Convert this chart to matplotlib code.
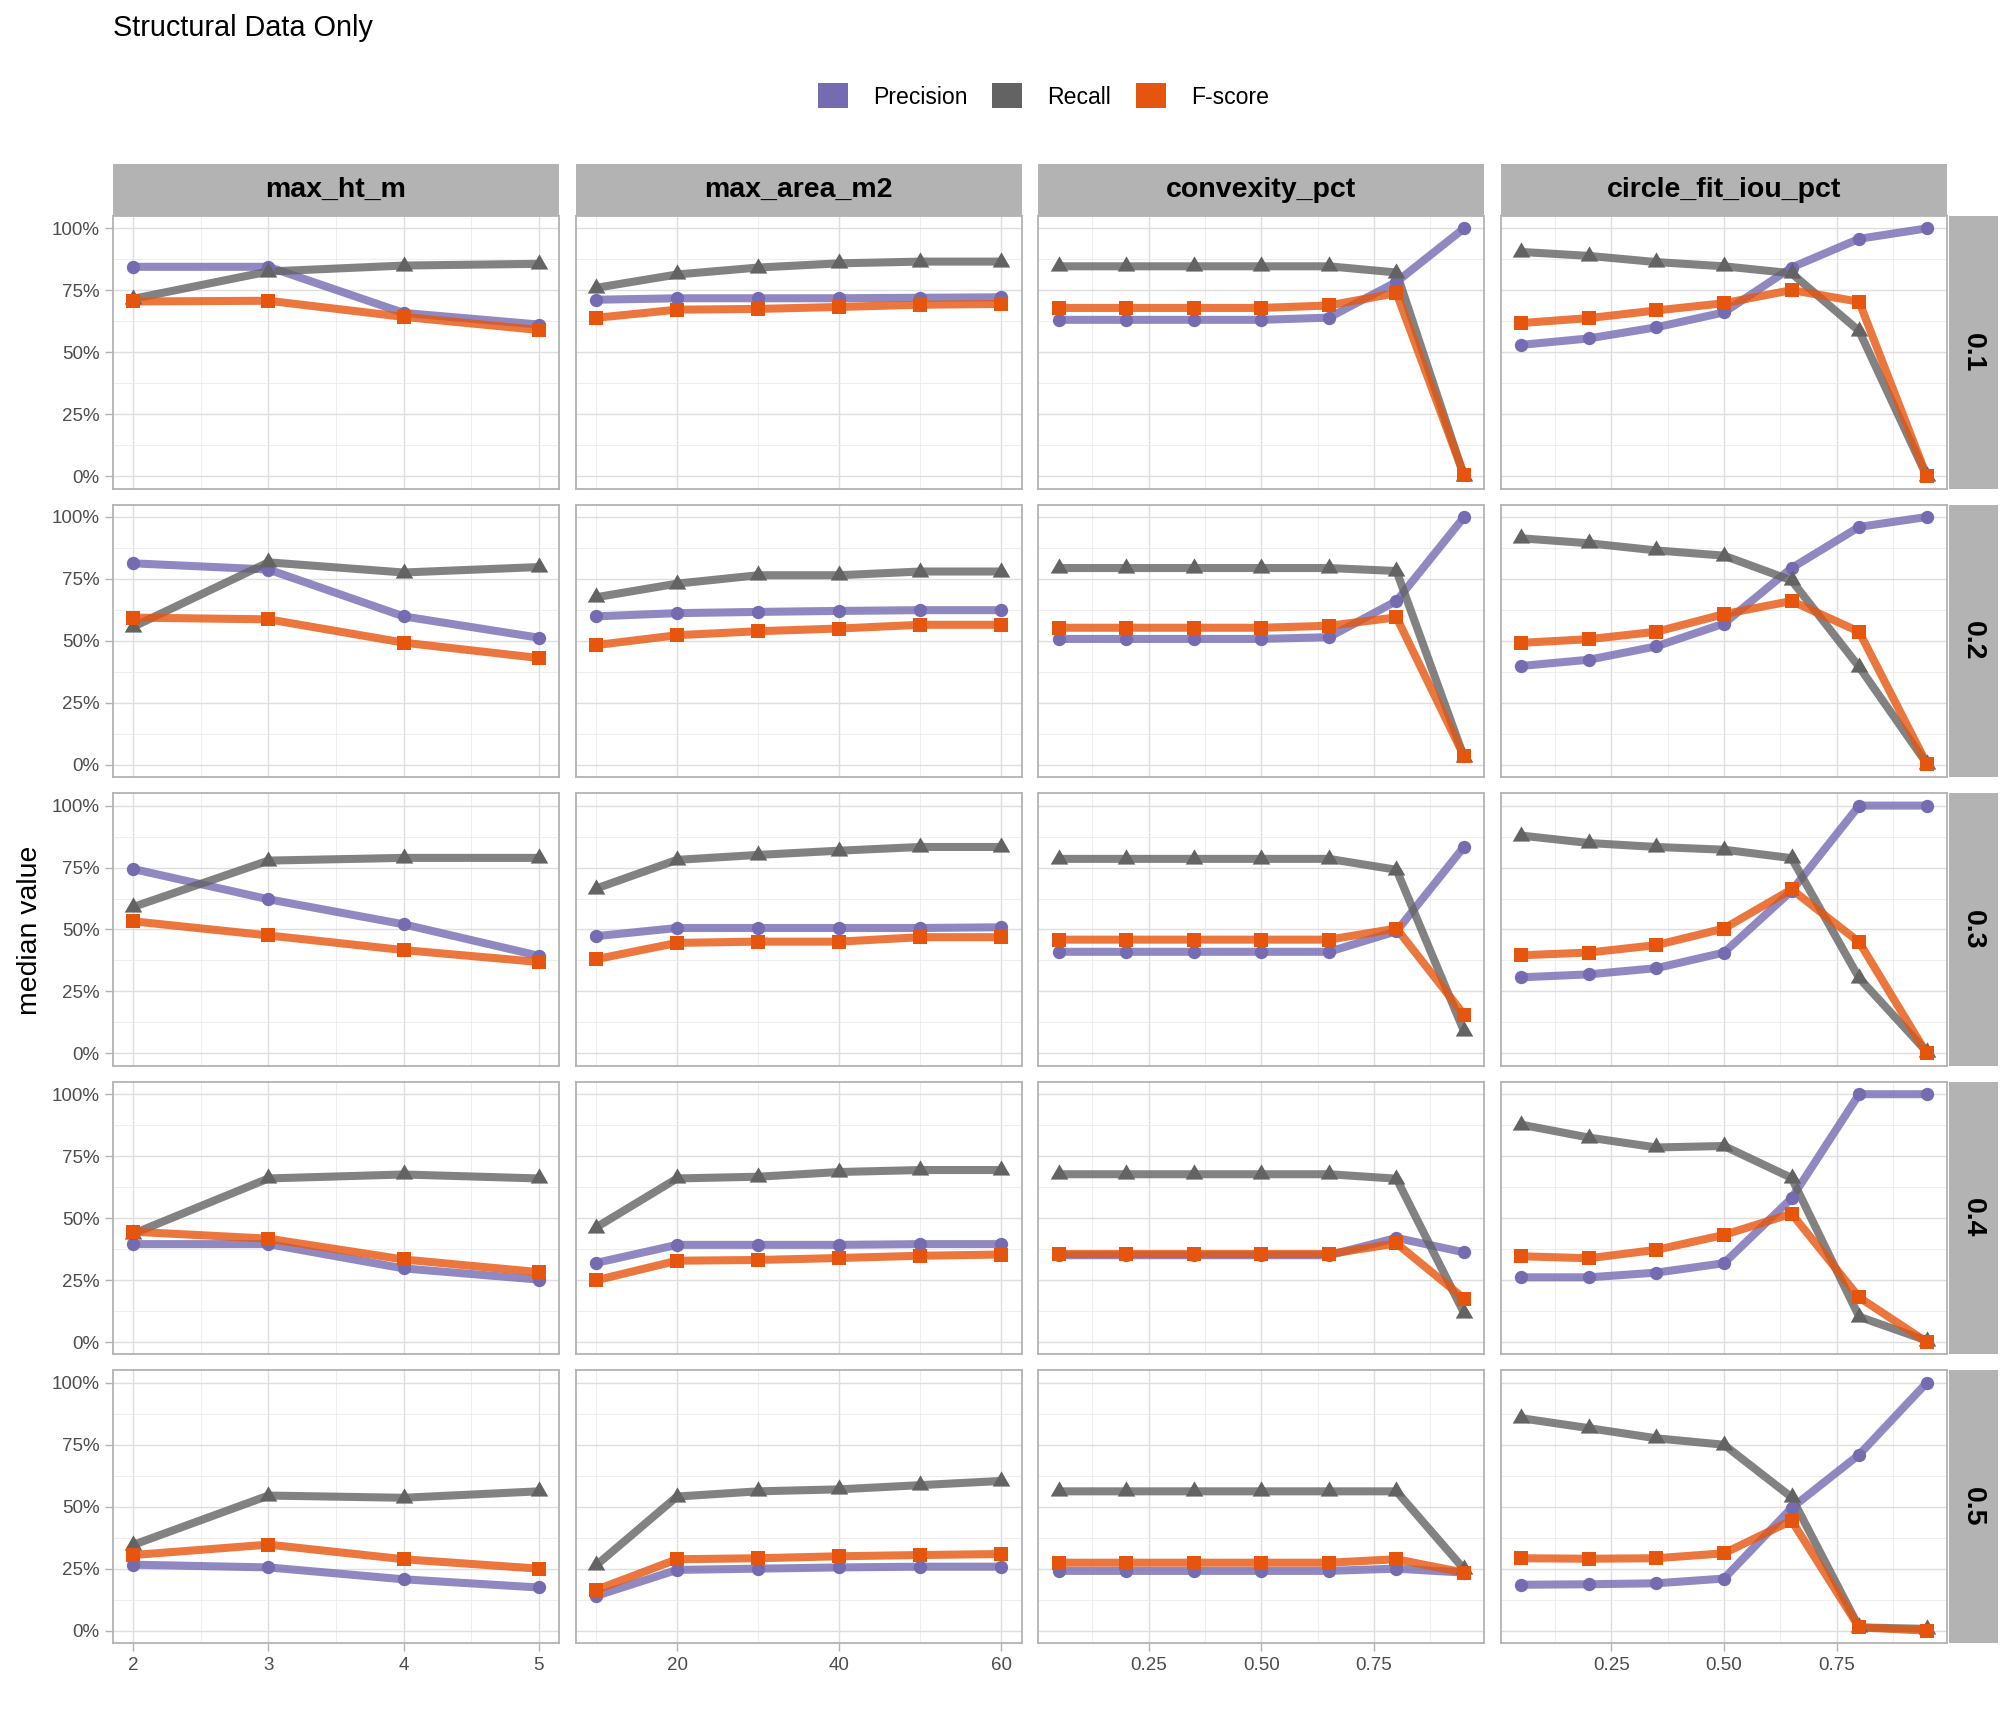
"""Faceted precision / recall / F-score curves for structural filters.

Rows are the IoU threshold, columns are the filter variable, each
panel shows the median value of the three metrics.

Usage:
    python plot.py
"""

import matplotlib
matplotlib.use("Agg")
import matplotlib.pyplot as plt
from matplotlib.patches import Patch, Rectangle
from matplotlib.ticker import PercentFormatter, FormatStrFormatter

plt.rcParams['font.family'] = ['Liberation Sans', 'DejaVu Sans']

# ---------------------------------------------------------------- data
thresholds = ["0.1", "0.2", "0.3", "0.4", "0.5"]
features = ["max_ht_m", "max_area_m2", "convexity_pct", "circle_fit_iou_pct"]
metrics = ["Precision", "Recall", "F-score"]

x_ht = [2, 3, 4, 5]
x_area = [10, 20, 30, 40, 50, 60]
x_conv = [0.05, 0.20, 0.35, 0.50, 0.65, 0.80, 0.95]
x_circ = [0.05, 0.20, 0.35, 0.50, 0.65, 0.80, 0.95]

# values in percent, one list per threshold row
prec_ht = [[84.5, 84.5, 65.9, 61.2],
           [81.3, 78.8, 59.9, 51.3],
           [74.4, 62.2, 52.1, 39.4],
           [39.5, 39.5, 29.7, 25.2],
           [26.6, 25.5, 20.7, 17.4]]
rec_ht = [[71.6, 82.6, 85.0, 85.7],
          [55.7, 81.7, 77.6, 79.8],
          [59.1, 77.8, 78.9, 78.9],
          [43.7, 66.0, 67.6, 66.0],
          [34.6, 54.5, 53.6, 56.2]]
f_ht = [[70.5, 70.8, 64.3, 59.0],
        [59.4, 58.7, 49.3, 43.1],
        [53.3, 47.6, 41.7, 36.9],
        [44.5, 41.7, 33.3, 28.2],
        [30.5, 34.7, 28.8, 25.0]]

prec_area = [[71.2, 71.8, 71.8, 71.8, 72.0, 72.2],
             [59.9, 61.2, 61.7, 62.1, 62.4, 62.4],
             [47.3, 50.6, 50.6, 50.6, 50.6, 50.9],
             [31.9, 39.2, 39.2, 39.2, 39.5, 39.5],
             [14.0, 24.5, 25.0, 25.5, 25.8, 25.8]]
rec_area = [[76.0, 81.4, 84.2, 85.9, 86.6, 86.6],
            [67.6, 73.1, 76.5, 76.5, 78.0, 78.0],
            [66.5, 78.1, 80.1, 81.8, 83.3, 83.3],
            [46.2, 66.0, 66.7, 68.6, 69.4, 69.4],
            [26.3, 54.1, 56.2, 57.0, 58.7, 60.4]]
f_area = [[63.9, 67.2, 67.5, 68.3, 69.2, 69.5],
          [48.3, 52.3, 53.9, 55.0, 56.5, 56.5],
          [38.0, 44.6, 45.1, 45.1, 46.9, 46.9],
          [24.9, 32.8, 33.1, 33.9, 34.8, 35.3],
          [16.4, 28.8, 29.2, 30.0, 30.5, 30.9]]

prec_conv = [[63.1, 63.1, 63.1, 63.1, 64.0, 78.4, 100.0],
             [50.8, 50.8, 50.8, 50.8, 51.5, 66.1, 100.0],
             [41.0, 41.0, 41.0, 41.0, 41.0, 49.3, 83.4],
             [35.0, 35.0, 35.0, 35.0, 35.0, 42.0, 36.2],
             [24.1, 24.1, 24.1, 24.1, 24.1, 25.0, 23.4]]
rec_conv = [[84.7, 84.7, 84.7, 84.7, 84.7, 82.2, 0.0],
            [79.4, 79.4, 79.4, 79.4, 79.4, 78.2, 3.0],
            [78.5, 78.5, 78.5, 78.5, 78.5, 74.1, 8.9],
            [67.7, 67.7, 67.7, 67.7, 67.7, 65.9, 11.7],
            [56.2, 56.2, 56.2, 56.2, 56.2, 56.2, 24.8]]
f_conv = [[67.9, 67.9, 67.9, 67.9, 68.9, 73.9, 0.5],
          [55.3, 55.3, 55.3, 55.3, 56.1, 59.5, 3.5],
          [45.9, 45.9, 45.9, 45.9, 45.9, 50.4, 15.6],
          [35.5, 35.5, 35.5, 35.5, 35.5, 39.8, 17.5],
          [27.4, 27.4, 27.4, 27.4, 27.4, 28.8, 23.4]]

prec_circ = [[53.0, 55.6, 60.1, 66.1, 84.2, 95.8, 100.0],
             [39.9, 42.4, 47.8, 57.0, 79.4, 96.0, 100.0],
             [30.7, 31.9, 34.4, 40.7, 65.6, 100.0, 100.0],
             [26.1, 26.1, 28.0, 31.8, 58.0, 100.0, 100.0],
             [18.5, 18.7, 19.1, 21.0, 49.5, 71.0, 100.0]]
rec_circ = [[90.5, 88.9, 86.4, 84.7, 81.9, 58.6, 0.0],
            [91.4, 89.4, 86.5, 84.4, 74.4, 39.5, 0.5],
            [87.9, 84.9, 83.3, 82.2, 78.8, 30.4, 0.7],
            [87.7, 82.5, 78.5, 79.1, 66.2, 10.2, 0.6],
            [85.7, 81.7, 77.6, 75.0, 53.8, 1.3, 0.7]]
f_circ = [[61.8, 63.8, 66.9, 69.8, 75.1, 70.4, 0.0],
          [49.2, 50.7, 53.7, 60.8, 66.1, 53.7, 0.5],
          [39.6, 40.7, 43.7, 50.4, 66.2, 44.9, 0.0],
          [34.6, 33.8, 37.2, 43.2, 51.8, 18.0, 0.0],
          [29.2, 29.0, 29.2, 31.2, 44.4, 1.3, 0.0]]

# --------------------------------------------------------------- style
COLORS = {"Precision": "#756bb1", "Recall": "#636363", "F-score": "#e6550d"}
# equilateral triangle, centroid on the data point (like ggplot shape 17)
TRIANGLE = [(0, 0.577), (-0.5, -0.289), (0.5, -0.289), (0, 0.577)]
MARKERS = {"Precision": ("o", 9.6), "Recall": (TRIANGLE, 14.6),
           "F-score": ("s", 10.0)}
GRID_MAJOR = "#dedede"
GRID_MINOR = "#ebebeb"
BORDER = "#b3b3b3"
TICK_TEXT = "#4d4d4d"

W, H = 2016, 1728


def main():
    columns = [
        (x_ht, prec_ht, rec_ht, f_ht),
        (x_area, prec_area, rec_area, f_area),
        (x_conv, prec_conv, rec_conv, f_conv),
        (x_circ, prec_circ, rec_circ, f_circ),
    ]
    major_x = [[2, 3, 4, 5], [20, 40, 60], [0.25, 0.5, 0.75], [0.25, 0.5, 0.75]]
    minor_x = [[2.5, 3.5, 4.5], [10, 30, 50],
               [0.125, 0.375, 0.625, 0.875], [0.125, 0.375, 0.625, 0.875]]

    fig = plt.figure(figsize=(W / 100, H / 100), dpi=100)
    gs = fig.add_gridspec(5, 4, left=113 / W, right=1947 / W,
                          top=1 - 216 / H, bottom=1 - 1643 / H,
                          wspace=0.0374, hspace=0.0587)

    strip_h = 51.6 / 272.6
    strip_w = 49 / 446

    for c, (xs, prec, rec, fsc) in enumerate(columns):
        span = max(xs) - min(xs)
        for r in range(len(thresholds)):
            ax = fig.add_subplot(gs[r, c])
            series = {"Precision": prec[r], "Recall": rec[r], "F-score": fsc[r]}

            # lines first, then points (as ggplot draws the layers)
            for m in metrics:
                ax.plot(xs, series[m], color=COLORS[m], lw=5.8, alpha=0.8,
                        solid_capstyle='butt', zorder=3)
            for m in metrics:
                mk, ms = MARKERS[m]
                ax.plot(xs, series[m], linestyle='none', marker=mk,
                        markersize=ms, color=COLORS[m], markeredgewidth=0,
                        zorder=4)

            ax.set_xlim(min(xs) - 0.05 * span, max(xs) + 0.05 * span)
            ax.set_ylim(-5, 105)
            ax.set_xticks(major_x[c])
            ax.set_xticks(minor_x[c], minor=True)
            ax.set_yticks([0, 25, 50, 75, 100])
            ax.set_yticks([12.5, 37.5, 62.5, 87.5], minor=True)
            ax.yaxis.set_major_formatter(PercentFormatter(decimals=0))
            if c >= 2:
                ax.xaxis.set_major_formatter(FormatStrFormatter('%.2f'))

            ax.set_axisbelow(True)
            ax.grid(which='major', color=GRID_MAJOR, lw=1.0)
            ax.grid(which='minor', color=GRID_MINOR, lw=0.6)
            for sp in ax.spines.values():
                sp.set_color(BORDER)
                sp.set_linewidth(1.3)

            ax.tick_params(which='minor', length=0)
            ax.tick_params(which='major', length=5.8, width=1.0, color=BORDER,
                           labelcolor=TICK_TEXT, labelsize=13.5, pad=4)
            ax.tick_params(left=(c == 0), labelleft=(c == 0),
                           bottom=(r == 4), labelbottom=(r == 4))

            if r == 0:
                ax.add_patch(Rectangle((0, 1), 1, strip_h, transform=ax.transAxes,
                                       facecolor=BORDER, edgecolor='none',
                                       clip_on=False))
                ax.text(0.5, 1 + strip_h / 2, features[c], transform=ax.transAxes,
                        ha='center', va='center', fontsize=20.5,
                        fontweight='bold', color='black')
            if c == 3:
                ax.add_patch(Rectangle((1.004, 0), strip_w, 1, transform=ax.transAxes,
                                       facecolor=BORDER, edgecolor='none',
                                       clip_on=False))
                ax.text(1.004 + strip_w / 2, 0.5, thresholds[r],
                        transform=ax.transAxes, ha='center', va='center',
                        rotation=-90, fontsize=20.5, fontweight='bold',
                        color='black')

    fig.text(113 / W, 1 - 28 / H, "Structural Data Only", ha='left',
             va='center', fontsize=20.8, color='black')
    fig.text(30 / W, 1 - 930 / H, "median value", rotation=90, ha='center',
             va='center', fontsize=20.4, color='black')

    handles = [Patch(facecolor=COLORS[m], edgecolor='none', label=m)
               for m in metrics]
    fig.legend(handles=handles, loc='center', ncol=3, frameon=False,
               bbox_to_anchor=(1043.5 / W, 1 - 96 / H), fontsize=16.6,
               handlelength=1.3, handleheight=1.3, handletextpad=1.09,
               columnspacing=1.09, borderpad=0)

    fig.savefig("out.png", dpi=100)
    plt.close(fig)


if __name__ == "__main__":
    main()
